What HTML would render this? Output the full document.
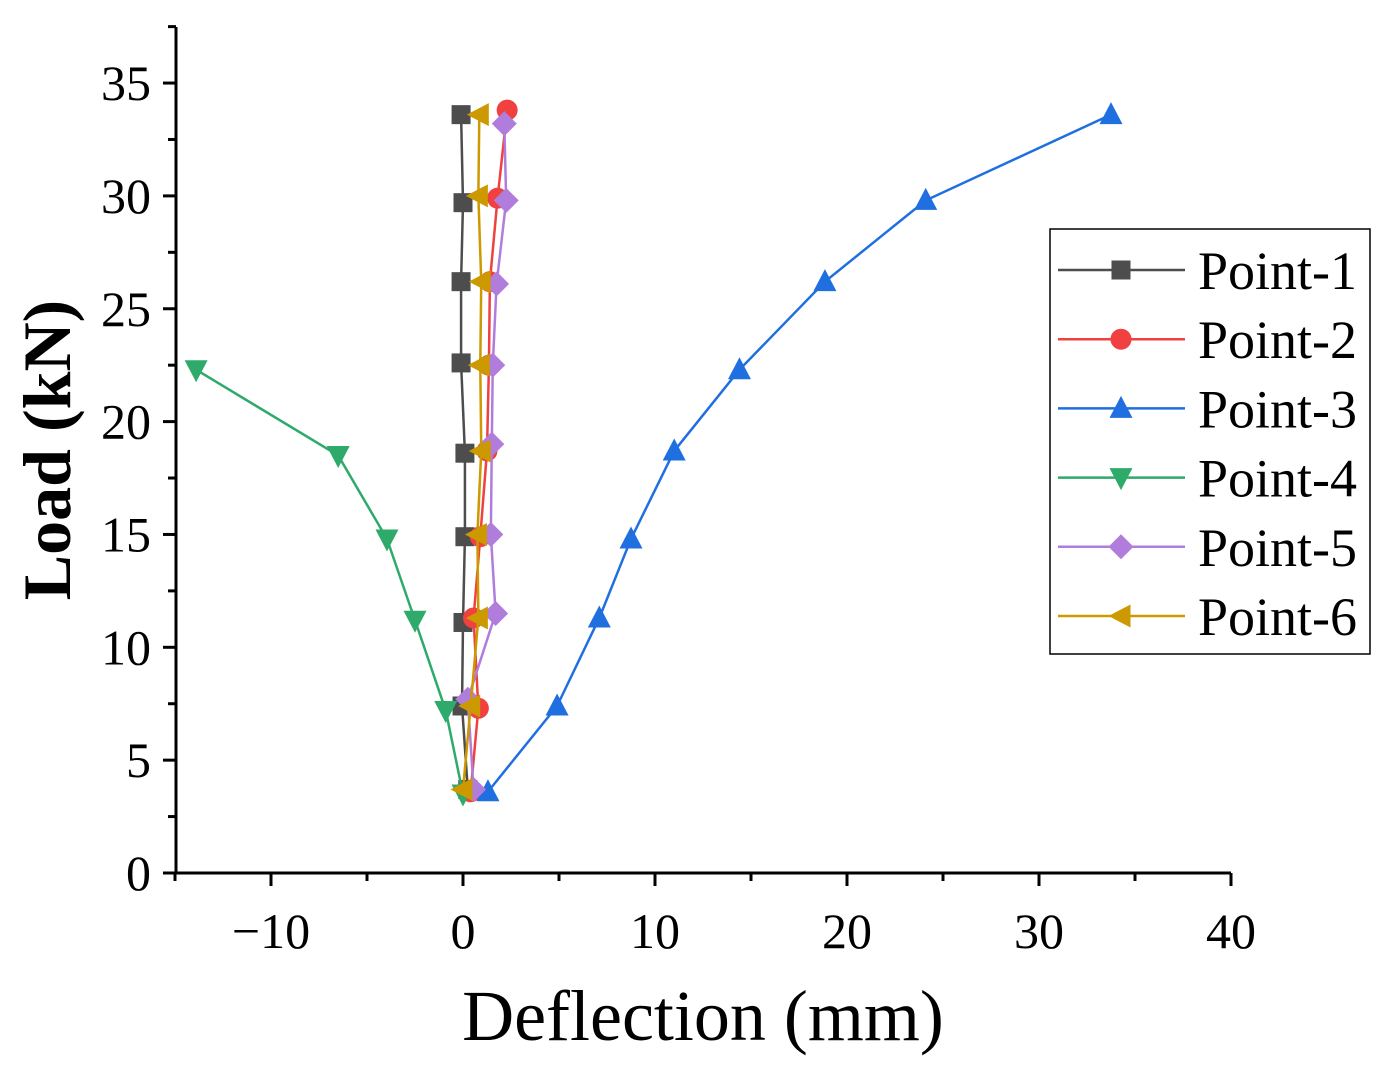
<!DOCTYPE html>
<html><head><meta charset="utf-8"><style>
html,body{margin:0;padding:0;background:#fff;}
svg text{font-family:"Liberation Serif",serif;}
</style></head><body>
<svg id="chart" width="1386" height="1077" xmlns="http://www.w3.org/2000/svg">
<g id="axes"></g><g id="series"></g><g id="legend"></g>
</svg>
<script>
const xTicks=[-10,0,10,20,30,40];
const yTicks=[0,5,10,15,20,25,30,35];
const seriesNames=["Point-1","Point-2","Point-3","Point-4","Point-5","Point-6"];
const colors=["#4d4d4d","#f04040","#1f6fe0","#2eaa6a","#b07ddc","#cc9900"];
const markers=["square","circle","up","down","diamond","left"];
const p1x=[0.25,-0.05,0.0,0.1,0.1,-0.1,-0.1,0.0,-0.1];
const p1y=[3.7,7.4,11.1,14.9,18.6,22.6,26.2,29.7,33.6];
const p2x=[0.4,0.8,0.55,0.9,1.25,1.35,1.4,1.8,2.3];
const p2y=[3.6,7.3,11.3,14.9,18.7,22.5,26.2,29.9,33.8];
const p3x=[1.3,4.9,7.1,8.75,11.0,14.4,18.85,24.1,33.75];
const p3y=[3.6,7.4,11.3,14.8,18.7,22.3,26.2,29.8,33.6];
const p4x=[0.0,-0.9,-2.5,-3.96,-6.5,-13.9];
const p4y=[3.5,7.2,11.2,14.8,18.5,22.3];
const p5x=[0.55,0.25,1.7,1.45,1.5,1.55,1.75,2.25,2.15];
const p5y=[3.7,7.7,11.5,15.0,19.0,22.5,26.1,29.8,33.2];
const p6x=[0.0,0.4,0.8,0.75,0.95,0.9,0.95,0.8,0.85];
const p6y=[3.7,7.4,11.3,15.0,18.7,22.5,26.2,30.0,33.6];
const XS=[p1x,p2x,p3x,p4x,p5x,p6x], YS=[p1y,p2y,p3y,p4y,p5y,p6y];

const NS="http://www.w3.org/2000/svg";
const L=176,R=1231,T=27,B=873;
const sx=v=>463+v*19.2, sy=v=>873-v*22.57;
function mk(t,a,p){const e=document.createElementNS(NS,t);for(const k in a)e.setAttribute(k,a[k]);p.appendChild(e);return e;}
const ax=document.getElementById('axes');
let e=mk('line',{x1:L,y1:T,x2:L,y2:B+1,stroke:'#000','stroke-width':3},ax);


e=mk('line',{x1:L-1,y1:B,x2:R,y2:B,stroke:'#000','stroke-width':3},ax);


for(let v=-15;v<=40;v+=5){const x=sx(v);const major=xTicks.includes(v);
 e=mk('line',{x1:x,y1:B,x2:x,y2:B+(major?13:8),stroke:'#000','stroke-width':3},ax);
 
 }
xTicks.forEach(v=>{const t=mk('text',{x:sx(v),y:948,'text-anchor':'middle','font-size':50},ax);t.textContent=v<0?'\u2212'+(-v):v;
 
 });
for(let v=0;v<=37.5;v+=2.5){const y=sy(v);const major=yTicks.includes(v);
 e=mk('line',{x1:L,y1:y,x2:L-(major?13:8),y2:y,stroke:'#000','stroke-width':3},ax);
 
 }
yTicks.forEach(v=>{const t=mk('text',{x:151,y:sy(v)+17,'text-anchor':'end','font-size':50},ax);t.textContent=v;
 
 });
let t=mk('text',{x:703,y:1040,'text-anchor':'middle','font-size':72},ax);t.textContent='Deflection (mm)';


t=mk('text',{x:0,y:0,'text-anchor':'middle','font-size':68,'font-weight':'bold',transform:'translate(70,450) rotate(-90)'},ax);t.textContent='Load (kN)';



function marker(kind,x,y,c,g){const s=10.5;let el;
 if(kind==='square')el=mk('rect',{x:x-s+1,y:y-s+1,width:2*s-2,height:2*s-2,fill:c},g);
 else if(kind==='circle')el=mk('circle',{cx:x,cy:y,r:s,fill:c},g);
 else{let pts;
  if(kind==='up')pts=[[x,y-s-2],[x+s+1,y+s-1],[x-s-1,y+s-1]];
  if(kind==='down')pts=[[x,y+s+2],[x+s+1,y-s+1],[x-s-1,y-s+1]];
  if(kind==='left')pts=[[x-s-2,y],[x+s-1,y-s-1],[x+s-1,y+s+1]];
  if(kind==='diamond')pts=[[x,y-s-2],[x+s+2,y],[x,y+s+2],[x-s-2,y]];
  el=mk('polygon',{points:pts.map(p=>p.join(',')).join(' '),fill:c},g);}
 return el;}
const sg=document.getElementById('series');
seriesNames.forEach((n,i)=>{const g=mk('g',{},sg);
 
 
 const pl=mk('polyline',{points:XS[i].map((v,j)=>sx(v)+','+sy(YS[i][j])).join(' '),fill:'none',stroke:colors[i],'stroke-width':2.5},g);
 
 
 XS[i].forEach((v,j)=>{const m=marker(markers[i],sx(v),sy(YS[i][j]),colors[i],g);
  
  });
});
const lg=document.getElementById('legend');


mk('rect',{x:1050,y:229,width:320,height:425,fill:'#fff',stroke:'#000','stroke-width':1.5},lg);
seriesNames.forEach((n,i)=>{const y=270+i*69.2;const g=mk('g',{},lg);
 
 
 mk('line',{x1:1058,y1:y,x2:1185,y2:y,stroke:colors[i],'stroke-width':2.5},g);
 marker(markers[i],1121,y,colors[i],g);
 const tt=mk('text',{x:1198,y:y+19,'font-size':54},g);tt.textContent=n;});
</script>
</body></html>
